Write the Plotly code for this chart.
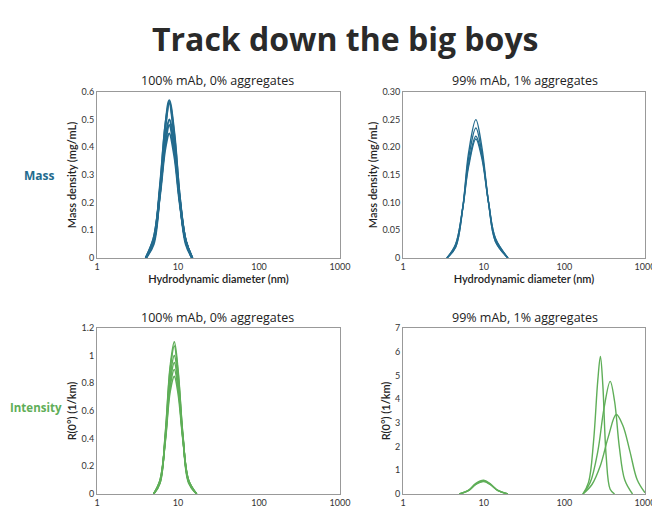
import plotly.graph_objects as go

# ---- data ----
tl_x = [4, 5, 6, 7, 7.8, 9, 10.5, 12.5, 15]
tl_y = [
    [0, 0.05, 0.25, 0.48, 0.57, 0.45, 0.22, 0.05, 0],
    [0, 0.06, 0.26, 0.48, 0.56, 0.44, 0.22, 0.06, 0],
    [0, 0.06, 0.24, 0.43, 0.50, 0.40, 0.21, 0.06, 0],
    [0, 0.07, 0.24, 0.42, 0.48, 0.39, 0.21, 0.06, 0],
    [0, 0.07, 0.23, 0.40, 0.45, 0.37, 0.20, 0.06, 0],
]
tr_x = [3.5, 4.5, 5.5, 6.5, 8, 9.5, 11.5, 14, 20]
tr_y = [
    [0, 0.02, 0.09, 0.19, 0.25, 0.20, 0.10, 0.03, 0],
    [0, 0.02, 0.09, 0.18, 0.235, 0.19, 0.10, 0.03, 0],
    [0, 0.025, 0.09, 0.17, 0.22, 0.185, 0.10, 0.035, 0],
    [0, 0.025, 0.09, 0.165, 0.215, 0.18, 0.10, 0.035, 0],
]
bl_x = [5, 6, 7, 8, 9, 10, 11.5, 13.5, 17]
bl_y = [
    [0, 0.08, 0.45, 0.92, 1.10, 0.90, 0.42, 0.08, 0],
    [0, 0.08, 0.44, 0.90, 1.07, 0.88, 0.42, 0.09, 0],
    [0, 0.09, 0.42, 0.85, 1.00, 0.84, 0.41, 0.09, 0],
    [0, 0.09, 0.41, 0.81, 0.95, 0.80, 0.40, 0.10, 0],
    [0, 0.10, 0.40, 0.78, 0.90, 0.77, 0.40, 0.10, 0],
    [0, 0.10, 0.39, 0.74, 0.85, 0.73, 0.39, 0.10, 0],
]
br_small_x = [5, 6.5, 8, 10, 12, 15, 20]
br_small_y = [
    [0, 0.15, 0.42, 0.55, 0.42, 0.15, 0],
    [0, 0.16, 0.45, 0.58, 0.44, 0.15, 0],
    [0, 0.14, 0.40, 0.52, 0.40, 0.14, 0],
]
br_big = [
    ([170, 200, 230, 260, 280, 300, 330, 370, 420], [0, 0.5, 2.2, 4.8, 5.8, 4.6, 1.6, 0.2, 0]),
    ([170, 210, 260, 310, 370, 420, 480, 560, 700], [0, 0.5, 1.8, 3.6, 4.75, 3.9, 2.0, 0.6, 0]),
    ([170, 220, 280, 350, 440, 530, 650, 800, 1000], [0, 0.4, 1.2, 2.4, 3.35, 2.9, 1.8, 0.6, 0.05]),
]

BLUE = "#236b8e"
GREEN = "#5fae58"

fig = go.Figure()
OFF = 8
W, H = 660 - OFF, 513 - OFF

def add(xs, ys, ax, color, w):
    fig.add_trace(go.Scatter(x=xs, y=ys, mode="lines", line=dict(color=color, width=w, shape="spline"),
                             xaxis="x" + ax, yaxis="y" + ax, showlegend=False, hoverinfo="skip"))

for y in tl_y: add(tl_x, y, "", BLUE, 2.2)
for y in tr_y: add(tr_x, y, "2", BLUE, 1.4)
for y in bl_y: add(bl_x, y, "3", GREEN, 1.6)
for y in br_small_y: add(br_small_x, y, "4", GREEN, 1.4)
for xs, ys in br_big: add(xs, ys, "4", GREEN, 1.4)

def px_dom(a, b, total, flip=False):
    a -= OFF; b -= OFF
    if flip:
        return [1 - b / total, 1 - a / total]
    return [a / total, b / total]

font = dict(family="Lato", size=9, color="#333")
tfont = dict(family="Lato", size=11, color="#222", weight=600)
xcommon = dict(type="log", range=[0, 3], tickvals=[1, 10, 100, 1000], ticktext=["1", "10", "100", "1000"],
               showgrid=False, zeroline=False, showline=True, linecolor="#999", mirror=True,
               ticks="", tickfont=font, automargin=False)
ycommon = dict(showgrid=False, zeroline=False, showline=True, linecolor="#999", mirror=True,
               ticks="", tickfont=font, automargin=False)

lx = px_dom(97, 340, W); rx = px_dom(403, 645, W)
ty = px_dom(92, 258, H, True); by = px_dom(328, 494, H, True)

fig.update_layout(
    width=W, height=H, margin=dict(l=0, r=0, t=0, b=0, autoexpand=False), paper_bgcolor="white", plot_bgcolor="white",
    xaxis=dict(xcommon, domain=lx, anchor="y", title=dict(text="Hydrodynamic diameter (nm)", font=tfont, standoff=0)),
    yaxis=dict(ycommon, domain=ty, anchor="x", range=[0, 0.6], tickvals=[0, .1, .2, .3, .4, .5, .6],
               ticktext=["0", "0.1", "0.2", "0.3", "0.4", "0.5", "0.6"],
               title=dict(text="Mass density (mg/mL)", font=tfont, standoff=2)),
    xaxis2=dict(xcommon, domain=rx, anchor="y2", title=dict(text="Hydrodynamic diameter (nm)", font=tfont, standoff=0)),
    yaxis2=dict(ycommon, domain=ty, anchor="x2", range=[0, 0.3], tickvals=[0, .05, .1, .15, .2, .25, .3],
                ticktext=["0", "0.05", "0.10", "0.15", "0.20", "0.25", "0.30"],
                title=dict(text="Mass density (mg/mL)", font=tfont, standoff=2)),
    xaxis3=dict(xcommon, domain=lx, anchor="y3"),
    yaxis3=dict(ycommon, domain=by, anchor="x3", range=[0, 1.2], tickvals=[0, .2, .4, .6, .8, 1, 1.2],
                ticktext=["0", "0.2", "0.4", "0.6", "0.8", "1", "1.2"],
                title=dict(text="R(0°) (1/km)", font=tfont, standoff=2)),
    xaxis4=dict(xcommon, domain=rx, anchor="y4"),
    yaxis4=dict(ycommon, domain=by, anchor="x4", range=[0, 7], tickvals=[0, 1, 2, 3, 4, 5, 6, 7],
                title=dict(text="R(0°) (1/km)", font=tfont, standoff=2)),
)

def ann(text, x, y, size, color="#222", bold=False, xanchor="center"):
    fig.add_annotation(text=("<b>%s</b>" % text) if bold else text, x=(x - OFF) / W, y=1 - (y - OFF) / H,
                       xref="paper", yref="paper", xanchor=xanchor, yanchor="middle",
                       showarrow=False, font=dict(family="Open Sans", size=size, color=color))

ann("Track down the big boys", 345, 38, 32, "#2a2a2a", True)
ann("100% mAb, 0% aggregates", 218, 80, 12.5, bold=False)
ann("99% mAb, 1% aggregates", 525, 80, 12.5)
ann("100% mAb, 0% aggregates", 218, 317, 12.5)
ann("99% mAb, 1% aggregates", 525, 317, 12.5)
ann("Mass", 22, 175, 12, BLUE, True, "left")
ann("Intensity", 8, 407, 11.5, GREEN, True, "left")

fig.write_html("out.html")
